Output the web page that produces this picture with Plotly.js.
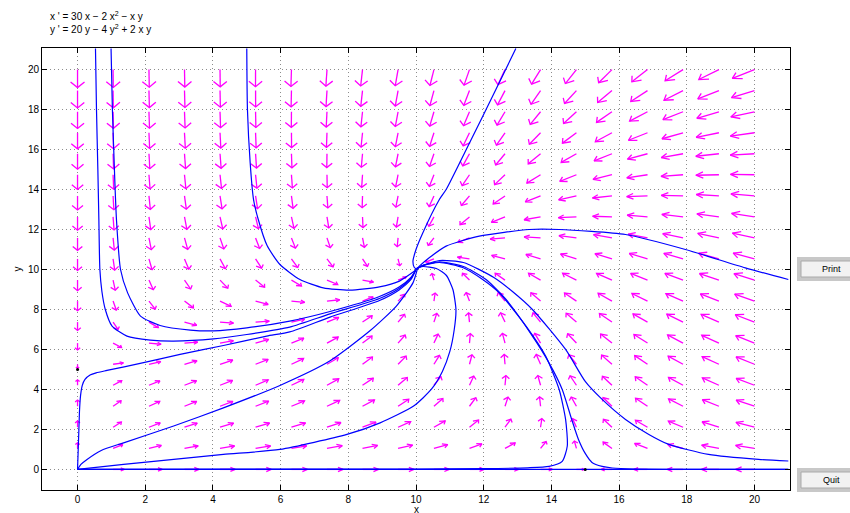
<!DOCTYPE html>
<html>
<head>
<meta charset="utf-8">
<script src="https://cdn.plot.ly/plotly-3.0.1.min.js"></script>
<style>html,body{margin:0;padding:0;background:#fff;}#plot{width:850px;height:513px;}</style>
</head>
<body>
<div id="plot"></div>
<script>
// ---- System printed on the chart: x' = 30x - 2x^2 - xy ; y' = 20y - 4y^2 + 2xy
const xCoef = [30, -2, -1];   // coefficients of x, x^2, x*y in x'
const yCoef = [20, -4, 2];    // coefficients of y, y^2, x*y in y'

// ---- Arrow grid positions (20 x 20 grid)
const gridX = [0,1.05,2.11,3.16,4.21,5.26,6.32,7.37,8.42,9.47,10.53,11.58,12.63,13.68,14.74,15.79,16.84,17.89,18.95,20];
const gridY = [0,1.05,2.11,3.16,4.21,5.26,6.32,7.37,8.42,9.47,10.53,11.58,12.63,13.68,14.74,15.79,16.84,17.89,18.95,20];

// ---- Trajectories
const trajA_x = [0.53,0.56,0.60,0.63,0.66,0.72,0.82,1.02,1.46,2.15,2.84,4.02,5.00,6.27,7.46,8.92,9.50,9.85,10.0];
const trajA_y = [21.05,18.0,15.0,12.5,10.0,8.9,8.0,7.17,6.67,6.47,6.42,6.53,6.75,7.12,7.78,8.55,9.05,9.55,10.0];
const trajB_x = [0.99,1.03,1.10,1.15,1.27,1.48,1.86,2.44,3.33,4.02,5.00,6.27,7.46,8.92,9.50,9.85,10.0];
const trajB_y = [21.05,18.0,14.5,12.5,10.0,8.83,7.67,7.2,6.97,6.93,7.08,7.42,7.9,8.65,9.12,9.6,10.0];
const trajC_x = [5.00,5.02,5.10,5.20,5.34,5.60,5.98,6.57,7.26,8.04,8.92,9.51,10.0];
const trajC_y = [21.05,18.0,15.35,13.5,12.5,11.2,10.25,9.5,9.08,8.97,9.13,9.42,9.97];
const trajD_x = [0.0,0.02,0.04,0.06,0.09,0.14,0.22,0.37,0.55,0.87,1.85,3.03,4.31,5.59,6.27,7.46,8.92,9.50,9.85,10.0];
const trajD_y = [0.0,1.0,2.0,3.0,3.7,4.2,4.5,4.72,4.83,4.95,5.3,5.75,6.2,6.67,6.88,7.62,8.45,8.98,9.5,10.0];
const trajE_x = [0.0,0.10,0.28,0.70,1.36,2.84,4.31,5.98,7.45,8.63,9.42,9.91,10.05];
const trajE_y = [0.0,0.25,0.5,0.95,1.33,2.17,3.08,4.2,5.42,6.92,8.17,9.33,10.08];
const trajF_x = [0.0,1.36,2.84,4.31,5.98,7.96,8.94,9.93,10.45,10.78,11.0,11.13,11.18,11.09,10.9,10.6,10.2,10.0];
const trajF_y = [0.0,0.25,0.5,0.75,1.0,1.75,2.33,3.17,4.0,4.9,5.9,7.0,8.0,9.0,9.7,10.05,10.15,10.05];
const trajG_x = [0.0,5.0,10.0,12.0,13.3,13.93,14.32,14.47,14.42,14.23,13.83,13.25,12.46,11.97,11.38,10.69,10.2,10.0];
const trajG_y = [0.0,0.01,0.02,0.04,0.08,0.15,0.4,1.17,2.5,4.0,5.67,7.17,8.83,9.5,10.1,10.35,10.2,10.0];
const trajH_x = [21.0,18.0,16.5,15.8,15.5,15.2,15.0,14.8,14.6,14.32,13.93,13.44,12.66,12.07,11.4,10.7,10.2,10.0];
const trajH_y = [0.0,0.0,0.02,0.07,0.15,0.35,0.8,1.5,2.5,4.0,5.33,6.67,8.5,9.5,10.15,10.38,10.2,10.0];
const trajI_x = [21.0,20.12,18.64,17.47,16.88,16.19,15.5,15.0,14.42,13.44,12.85,12.3,11.4,10.7,10.2,10.0];
const trajI_y = [0.42,0.5,0.75,1.25,1.75,2.5,3.5,4.4,6.0,8.0,8.9,9.6,10.35,10.45,10.2,10.0];
const trajJ_x = [21.0,19.73,17.96,16.19,14.23,13.34,11.87,10.89,10.4,10.1,10.0];
const trajJ_y = [9.5,10.08,11.0,11.75,12.0,12.0,11.67,11.17,10.6,10.17,10.0];
const trajK_x = [12.95,12.36,11.58,10.89,10.69,10.2,10.0,9.91,9.95,10.05];
const trajK_y = [21.05,19.0,16.33,14.0,13.5,11.83,11.0,10.4,10.1,10.0];
const axisLine_x = [0, 21];
const axisLine_y = [0, 0];
const eqX = [0, 15];
const eqY = [5, 0];

// ---- Build arrows from the printed system
function fx(x, y){ return xCoef[0]*x + xCoef[1]*x*x + xCoef[2]*x*y; }
function fy(x, y){ return yCoef[0]*y + yCoef[1]*y*y + yCoef[2]*x*y; }
const ax = [], ay = [];
const maxLen = 0.9, refMag = 1200, power = 0.27, headFrac = 0.39, headAng = 36*Math.PI/180;
for (const x0 of gridX) {
  for (const y0 of gridY) {
    const u = fx(x0,y0), v = fy(x0,y0);
    const m = Math.hypot(u, v);
    if (m < 1e-9) continue;
    const L = maxLen * Math.pow(m/refMag, power);
    const dx = u/m, dy = v/m;
    const tx = x0 + L*dx, ty = y0 + L*dy;
    ax.push(x0, tx, null); ay.push(y0, ty, null);
    const h = headFrac*L;
    const c = Math.cos(headAng), s = Math.sin(headAng);
    const bx = -dx, by = -dy;
    const w1x = tx + h*(bx*c - by*s), w1y = ty + h*(bx*s + by*c);
    const w2x = tx + h*(bx*c + by*s), w2y = ty + h*(-bx*s + by*c);
    ax.push(w1x, tx, w2x, null); ay.push(w1y, ty, w2y, null);
  }
}

const traces = [{
  x: ax, y: ay, type: 'scatter', mode: 'lines',
  line: {color: '#ff00ff', width: 1.3}, hoverinfo: 'skip', showlegend: false
}];
const trajs = [[trajA_x,trajA_y],[trajB_x,trajB_y],[trajC_x,trajC_y],[trajD_x,trajD_y],
  [trajE_x,trajE_y],[trajF_x,trajF_y],[trajG_x,trajG_y],[trajH_x,trajH_y],[trajI_x,trajI_y],
  [trajJ_x,trajJ_y],[trajK_x,trajK_y],[axisLine_x,axisLine_y]];
for (const [tx, ty] of trajs) {
  traces.push({x: tx, y: ty, type: 'scatter', mode: 'lines',
    line: {color: '#0000ff', width: 1.2, shape: 'spline', smoothing: 0.6},
    hoverinfo: 'skip', showlegend: false});
}
traces.push({x: eqX, y: eqY, type: 'scatter', mode: 'markers',
  marker: {color: '#000', size: 3}, hoverinfo: 'skip', showlegend: false});

const L0 = 42, W = 748, T0 = 48, H = 442;
const px2x = p => (p - L0)/W;
const py2y = p => (T0 + H - p)/H;
const FONT = 'Liberation Sans, Arial, sans-serif';

const axisCommon = {
  range: [-1.05, 21.05], dtick: 2, tick0: 0,
  showgrid: true, gridcolor: '#8c8c8c', griddash: '1px,3px', gridwidth: 1,
  zeroline: false, showline: true, linecolor: '#000', linewidth: 1, mirror: 'ticks',
  ticks: 'inside', ticklen: 5, tickcolor: '#000',
  tickfont: {family: FONT, size: 10, color: '#000'}
};

const layout = {
  width: 850, height: 513,
  margin: {l: L0, r: 850 - L0 - W, t: T0, b: 513 - T0 - H},
  paper_bgcolor: '#fff', plot_bgcolor: '#fff',
  showlegend: false,
  xaxis: Object.assign({}, axisCommon, {
    title: {text: ''}
  }),
  yaxis: Object.assign({}, axisCommon, {
    range: [-1.03, 21.08],
    title: {text: 'y', standoff: 4, font: {family: FONT, size: 10, color: '#000'}}
  }),
  annotations: [
    {xref: 'paper', yref: 'paper', x: px2x(416), y: py2y(502), xanchor: 'center', yanchor: 'top',
     text: 'x', showarrow: false, font: {family: FONT, size: 10, color: '#000'}},
    {xref: 'paper', yref: 'paper', x: px2x(48), y: py2y(16), xanchor: 'left', yanchor: 'middle',
     text: "x ' = 30 x − 2 x<sup>2</sup> − x y", showarrow: false,
     font: {family: FONT, size: 10, color: '#000'}},
    {xref: 'paper', yref: 'paper', x: px2x(48), y: py2y(29), xanchor: 'left', yanchor: 'middle',
     text: "y ' = 20 y − 4 y<sup>2</sup> + 2 x y", showarrow: false,
     font: {family: FONT, size: 10, color: '#000'}},
    {xref: 'paper', yref: 'paper', x: px2x(831), y: py2y(269), xanchor: 'center', yanchor: 'middle',
     text: 'Print', showarrow: false,
     font: {family: FONT, size: 9, color: '#000'}},
    {xref: 'paper', yref: 'paper', x: px2x(831), y: py2y(480), xanchor: 'center', yanchor: 'middle',
     text: 'Quit', showarrow: false,
     font: {family: FONT, size: 9, color: '#000'}}
  ],
  shapes: [
    {type: 'rect', xref: 'paper', yref: 'paper', x0: px2x(797), x1: px2x(852), y0: py2y(257), y1: py2y(281),
     fillcolor: '#c8c8c8', line: {width: 0}, layer: 'above'},
    {type: 'rect', xref: 'paper', yref: 'paper', x0: px2x(801), x1: px2x(852), y0: py2y(261), y1: py2y(277),
     fillcolor: '#f2f2f2', line: {color: '#aaa', width: 1}, layer: 'above'},
    {type: 'rect', xref: 'paper', yref: 'paper', x0: px2x(797), x1: px2x(852), y0: py2y(468), y1: py2y(492),
     fillcolor: '#c8c8c8', line: {width: 0}, layer: 'above'},
    {type: 'rect', xref: 'paper', yref: 'paper', x0: px2x(801), x1: px2x(852), y0: py2y(472), y1: py2y(488),
     fillcolor: '#f2f2f2', line: {color: '#aaa', width: 1}, layer: 'above'}
  ]
};

Plotly.newPlot('plot', traces, layout, {displayModeBar: false, staticPlot: true});
</script>
</body>
</html>
